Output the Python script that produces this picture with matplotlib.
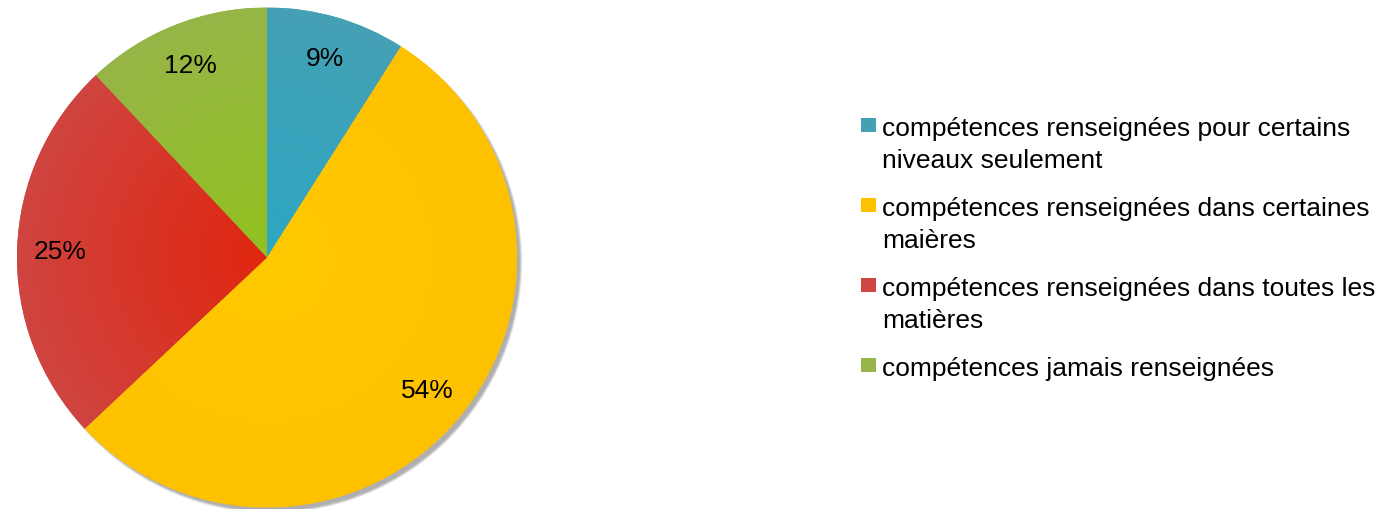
import numpy as np
import matplotlib
matplotlib.use("Agg")
import matplotlib.pyplot as plt
from matplotlib.patches import Rectangle, Circle

plt.rcParams['font.family'] = ['Liberation Sans', 'DejaVu Sans']

# donnees du graphique
labels = [
    "compétences renseignées pour certains\nniveaux seulement",
    "compétences renseignées dans certaines\nmaières",
    "compétences renseignées dans toutes les\nmatières",
    "compétences jamais renseignées",
]
values = [9, 54, 25, 12]
# couleur exterieure / couleur pres du centre (degrade)
outer_colors = ["#45a0b4", "#fec100", "#cf4541", "#97b548"]
inner_colors = ["#2ea7c3", "#ffc900", "#e0260f", "#92c11f"]

W, H = 1389, 510
fig = plt.figure(figsize=(W / 100, H / 100), dpi=100)

# camembert : centre (267, 258) rayon 250 px
cx, cy, r = 267, 258.5, 250
ax = fig.add_axes([(cx - r) / W, (H - cy - r) / H, 2 * r / W, 2 * r / H])

# ombre portee en bas a droite
for k in range(6):
    ax.add_patch(Circle((0.016, -0.018), 0.995 + 0.002 * k, color="black",
                        alpha=0.06, lw=0, zorder=0, clip_on=False))

wedges, texts, autotexts = ax.pie(
    values, startangle=90, counterclock=False, colors=outer_colors,
    autopct="%d%%", pctdistance=0.83, radius=1.0,
    wedgeprops=dict(linewidth=0), textprops=dict(fontsize=19, color="black"))

# degrade radial dans chaque part
xx, yy = np.meshgrid(np.linspace(-1, 1, 400), np.linspace(1, -1, 400))
rr = np.sqrt(xx ** 2 + yy ** 2)
t = np.clip(1.0 - rr, 0, 1) ** 0.9
for w, c0, c1 in zip(wedges, outer_colors, inner_colors):
    a = np.array(matplotlib.colors.to_rgb(c0))
    b = np.array(matplotlib.colors.to_rgb(c1))
    img = a[None, None, :] + (b - a)[None, None, :] * t[:, :, None]
    im = ax.imshow(img, extent=(-1, 1, -1, 1), zorder=1.5, interpolation="bilinear")
    im.set_clip_path(w)
for txt in autotexts:
    txt.set_zorder(3)

ax.set_xlim(-1, 1)
ax.set_ylim(-1, 1)
ax.set_aspect("equal")
ax.axis("off")

# legende dessinee a la main
lx, ly0, step, line_h = 861, 126, 80, 32
for i, (lab, col) in enumerate(zip(labels, outer_colors)):
    yc = ly0 + i * step
    fig.add_artist(Rectangle((lx / W, 1 - (yc + 7) / H), 15 / W, 14 / H,
                             transform=fig.transFigure, facecolor=col, lw=0))
    for j, line in enumerate(lab.split("\n")):
        fig.text(882 / W, 1 - (yc + 10 + j * line_h) / H, line, fontsize=19,
                 color="black", va="baseline", ha="left")

fig.savefig("out.png", dpi=100)
